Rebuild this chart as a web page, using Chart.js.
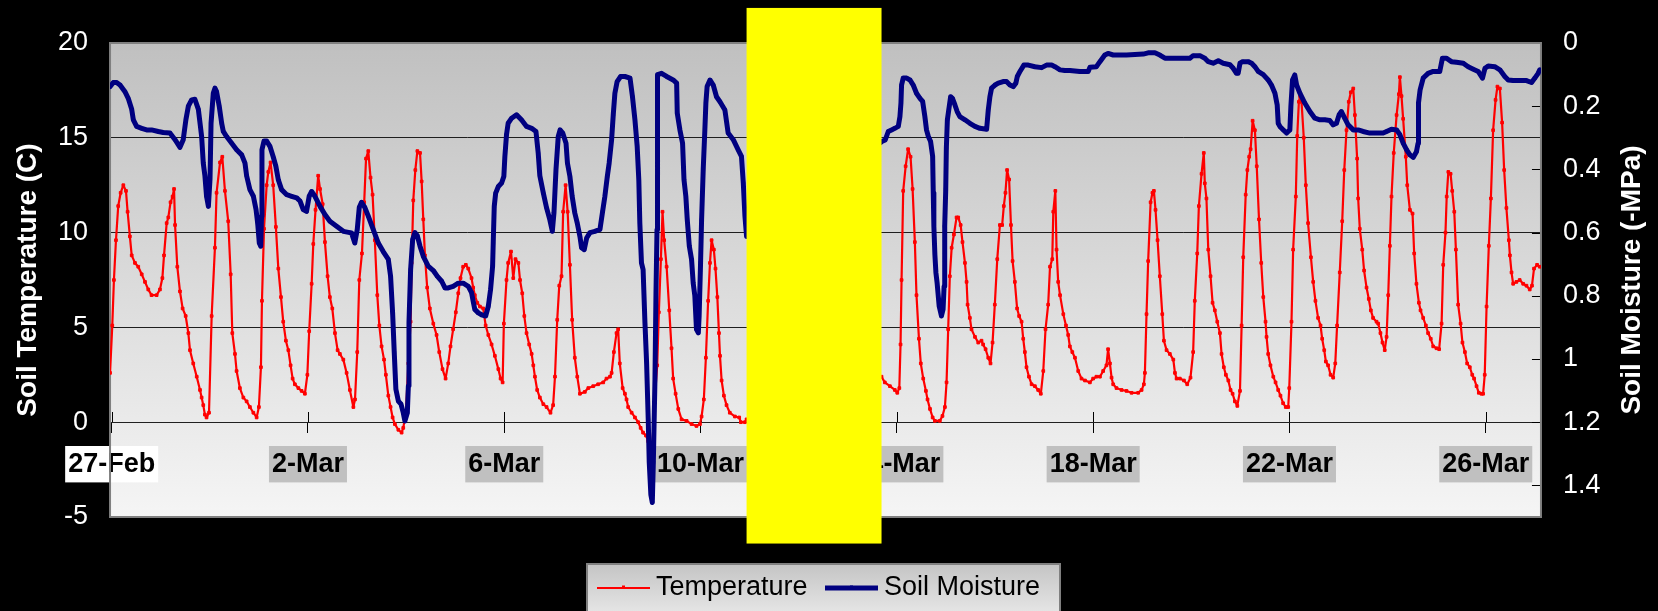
<!DOCTYPE html>
<html>
<head>
<meta charset="utf-8">
<title>Soil temperature and soil moisture</title>
<script src="https://cdn.jsdelivr.net/npm/chart.js@4.4.1/dist/chart.umd.min.js"></script>
<style>
  html, body { margin: 0; padding: 0; background: #000; }
  canvas { display: block; }
</style>
</head>
<body>
<canvas id="soil-chart" width="1658" height="611"></canvas>
<script>
// time axis is in hours from midnight, 27 Feb
var tickHours = [0, 96, 192, 288, 384, 480, 576, 672];
var tickLabels = ['27-Feb', '2-Mar', '6-Mar', '10-Mar', '14-Mar', '18-Mar', '22-Mar', '26-Mar'];

var tempHours = [
    -0.8, 0.3, 1.1, 2.1, 3.2, 4.4, 5.7, 7.0, 7.8, 8.9, 9.8, 11.4, 13.0, 14.7, 16.3, 17.9, 19.5, 22.0, 23.6,
    24.8, 25.6, 26.9, 27.7, 28.8, 29.8, 30.5, 31.0, 32.1, 33.4, 34.7, 36.2, 37.5, 38.3, 39.9, 41.6, 43.2, 44.0, 44.8, 45.6, 46.4, 47.6,
    48.9, 50.5, 51.3, 53.0, 54.1, 55.4, 57.0, 58.2, 59.0, 60.3, 61.1, 62.7, 64.4, 66.0, 67.6, 69.3, 70.9,
    72.0, 73.0, 73.5, 74.5, 75.8, 76.6, 77.7, 79.0, 80.3, 81.5, 82.8, 83.9, 85.2, 86.4, 87.5, 88.5, 89.6, 91.3, 92.9, 94.5,
    95.7, 96.6, 97.8, 98.6, 99.7, 101.0, 101.9, 103.2, 104.3, 105.6, 106.7, 107.9, 109.2, 110.5, 111.6, 113.3, 114.9, 116.5, 118.2, 119.0,
    120.1, 121.1, 122.4, 123.5, 124.4, 125.5, 126.6, 127.6, 128.7, 129.9, 130.9, 132.0, 133.2, 134.1, 135.3, 136.4, 137.4, 138.5, 140.2, 141.8, 142.6,
    143.9, 145.1, 146.2, 146.7, 147.5, 148.5, 149.5, 150.8, 151.6, 152.4, 153.2, 154.3, 155.6, 157.3, 158.9, 160.2, 161.8, 163.3,
    164.6, 165.7, 167.0, 168.3, 169.5, 170.6, 171.9, 173.2, 174.4, 176.0, 176.8, 177.6, 178.8, 180.1, 181.7, 182.9, 184.2, 185.8, 187.4, 189.1, 190.2, 191.2,
    191.8, 193.1, 193.9, 195.3, 196.4, 197.5, 198.9, 199.7, 200.8, 201.8, 202.9, 204.2, 205.4, 206.2, 207.0, 208.1, 209.4, 211.1, 212.7, 214.6,
    215.9, 216.8, 217.9, 218.9, 220.0, 220.8, 222.0, 223.0, 224.1, 225.2, 226.5, 227.7, 229.0, 231.4, 233.1, 235.5, 237.9,
    240.4, 242.0, 243.7, 244.5, 245.6, 246.9, 247.7, 248.5, 249.9, 251.0, 251.8, 252.6, 254.3, 255.9, 257.5, 258.7, 259.9, 261.3, 262.4, 263.6,
    264.5, 265.7, 266.8, 267.6, 268.6, 269.4, 270.2, 271.4, 272.7, 273.8, 274.6, 275.8, 277.1, 278.7, 281.2, 283.6, 286.0, 287.7,
    288.5, 289.6, 290.6, 291.7, 292.6, 293.4, 294.5, 295.3, 296.2, 297.0, 297.5, 298.3, 299.4, 300.7, 302.3, 304.8, 306.9, 307.7, 309.7, 310.5,
    376.5, 378.1, 380.6, 383.0,
    384.2, 385.2, 385.8, 386.3, 387.1, 388.3, 389.5, 390.7, 391.7, 392.8, 393.6, 394.8, 395.7, 396.9, 398.2, 399.0, 400.2, 401.5, 402.6, 405.0, 406.3,
    407.5, 408.3, 409.1, 409.9, 410.8, 411.9, 413.2, 414.0, 415.2, 416.1, 417.3, 418.1, 418.6, 419.7, 420.5, 422.2, 423.8, 425.4, 426.2, 427.4, 428.7, 429.8,
    430.8, 431.9, 433.1, 434.4, 435.5, 436.3, 437.1, 437.9, 438.9, 439.8, 440.6, 441.7, 442.8, 443.8, 445.0, 445.8, 446.6, 447.4, 448.6, 449.9, 451.5, 453.1, 454.4,
    455.6, 456.7, 458.0, 458.9, 460.0, 460.5, 461.5, 462.1, 462.9, 463.8, 465.4, 466.7, 467.8, 468.6, 469.8, 471.1, 472.7, 474.3, 476.0, 478.4,
    480.0, 481.6, 483.3, 484.9, 486.5, 487.3, 488.2, 489.0, 489.8, 491.4, 493.9, 496.3, 498.8, 502.0, 503.7, 504.8,
    505.3, 506.1, 506.9, 508.1, 509.0, 509.7, 510.5, 511.5, 512.6, 513.8, 514.6, 515.9, 517.5, 519.2, 520.0, 520.8, 522.4, 524.4, 526.0, 527.6,
    528.9, 529.7, 530.9, 531.7, 533.0, 534.1, 534.6, 535.4, 536.3, 537.4, 538.4, 539.5, 540.7, 542.0, 542.8, 543.9, 544.9, 546.1, 547.2, 548.2, 549.3, 550.5,
    551.8, 552.6, 553.4, 554.6, 555.4, 556.3, 557.0, 558.0, 559.1, 560.0, 561.1, 562.2, 563.2, 564.3, 564.8, 565.6, 566.7, 568.1, 569.2, 570.5, 571.6, 572.9, 574.2, 575.4,
    575.9, 577.0, 577.8, 579.1, 579.8, 580.6, 581.2, 581.9, 583.0, 584.0, 585.1, 586.5, 587.6, 588.7, 590.0, 591.2, 592.0, 593.0, 593.8, 594.9, 596.1, 597.4,
    598.4, 599.3, 600.6, 601.8, 602.8, 603.9, 605.0, 606.0, 607.2, 608.0, 609.1, 609.6, 610.4, 611.6, 612.5, 613.7, 614.8, 615.8, 616.9, 618.6, 619.4, 620.5, 621.5, 622.6,
    623.5, 624.3, 625.1, 625.9, 627.0, 628.4, 629.5, 630.0, 630.8, 631.6, 632.9, 633.6, 634.9, 636.2, 637.0, 638.1, 639.3, 640.1, 641.4, 642.7, 643.8, 645.1, 646.3, 647.9, 649.2,
    650.4, 651.2, 652.3, 652.9, 653.7, 654.8, 655.6, 656.6, 657.4, 658.5, 659.7, 660.6, 661.8, 662.9, 664.2, 665.4, 666.3, 667.5, 668.6, 669.9, 670.7,
    671.5, 672.4, 673.5, 674.5, 675.6, 676.8, 677.7, 678.9, 680.0, 681.0, 682.1, 683.3, 683.8, 684.6, 685.4, 687.0, 688.6, 690.3, 691.9, 693.5, 694.6, 695.6, 697.1, 698.4
];
var tempC = [
    2.6, 5.1, 7.5, 9.6, 11.4, 12.1, 12.5, 12.2, 11.1, 9.8, 8.8, 8.4, 8.2, 7.8, 7.4, 7.0, 6.7, 6.7, 7.0,
    7.6, 8.8, 10.5, 10.8, 11.6, 11.9, 12.3, 10.4, 8.2, 6.9, 6.0, 5.6, 4.7, 3.8, 3.1, 2.4, 1.7, 1.3, 0.9, 0.4, 0.25, 0.5,
    5.6, 9.2, 12.1, 13.7, 14.0, 12.2, 10.6, 7.8, 4.7, 3.6, 2.7, 1.8, 1.3, 1.1, 0.8, 0.5, 0.25,
    0.8, 2.9, 6.4, 10.2, 12.5, 13.2, 13.7, 12.5, 10.3, 8.1, 6.6, 5.3, 4.3, 3.8, 3.0, 2.3, 2.0, 1.8, 1.65, 1.5,
    2.5, 4.8, 7.3, 9.4, 11.2, 13.0, 12.3, 11.5, 9.5, 7.7, 6.6, 6.0, 4.7, 3.8, 3.6, 3.3, 2.6, 1.7, 0.8, 1.2,
    3.7, 7.5, 8.9, 11.6, 13.9, 14.3, 12.9, 12.0, 9.6, 6.7, 5.1, 4.0, 3.3, 2.5, 1.4, 0.8, 0.25, -0.1, -0.4, -0.55, -0.3,
    0.5, 3.1, 5.3, 8.4, 11.7, 13.3, 14.3, 14.2, 12.7, 10.7, 8.8, 7.1, 6.0, 5.2, 4.6, 3.7, 2.8, 2.3,
    3.1, 4.0, 4.9, 5.8, 6.8, 7.6, 8.2, 8.3, 8.1, 7.6, 7.1, 6.7, 6.3, 6.1, 6.0, 5.1, 4.6, 4.1, 3.5, 2.8, 2.3, 2.1,
    5.2, 7.5, 8.4, 9.0, 7.6, 8.6, 8.4, 7.5, 6.8, 5.6, 4.7, 4.1, 3.6, 3.0, 2.4, 1.7, 1.3, 0.95, 0.8, 0.5,
    0.9, 2.4, 5.4, 7.2, 7.7, 11.1, 12.5, 11.1, 8.3, 5.4, 3.4, 2.4, 1.5, 1.6, 1.8, 1.9, 2.0,
    2.1, 2.3, 2.4, 2.6, 3.7, 4.7, 4.9, 3.1, 1.8, 1.5, 1.2, 0.8, 0.5, 0.25, 0.0, -0.3, -0.55, -0.7, -1.0, -1.25,
    -1.1, 1.4, 3.0, 5.8, 8.6, 11.1, 9.6, 8.2, 5.9, 3.9, 2.3, 1.5, 0.7, 0.15, 0.07, -0.1, -0.2, -0.1,
    0.3, 1.2, 3.4, 6.4, 8.4, 9.6, 9.1, 8.1, 6.6, 4.7, 3.5, 2.2, 1.4, 0.9, 0.5, 0.3, 0.25, 0.0, 0.0, 0.15,
    2.4, 2.1, 1.9, 1.7,
    1.55, 1.8, 4.1, 7.5, 12.2, 13.5, 14.4, 14.0, 12.3, 9.5, 6.7, 4.4, 3.1, 2.3, 1.65, 1.2, 0.7, 0.25, 0.07, 0.07, 0.33,
    0.8, 2.1, 4.9, 7.7, 9.2, 9.9, 10.8, 10.8, 10.4, 9.5, 8.4, 7.4, 6.2, 5.5, 4.9, 4.5, 4.2, 4.3, 4.1, 3.85, 3.4, 3.1,
    4.2, 6.2, 8.6, 10.4, 10.4, 11.4, 12.1, 13.3, 12.8, 10.4, 8.5, 7.4, 6.0, 5.6, 5.3, 4.4, 3.7, 2.9, 2.4, 2.0, 1.9, 1.7, 1.5,
    2.7, 4.9, 6.2, 8.2, 8.6, 11.1, 12.2, 9.1, 7.4, 6.7, 5.7, 5.1, 4.6, 4.0, 3.7, 3.4, 2.7, 2.3, 2.2, 2.1,
    2.3, 2.4, 2.4, 2.7, 3.0, 3.85, 3.1, 2.35, 2.0, 1.8, 1.7, 1.65, 1.55, 1.55, 1.7, 2.0,
    2.6, 5.7, 8.5, 11.6, 12.1, 12.2, 11.2, 9.6, 7.7, 5.7, 4.3, 3.8, 3.6, 3.3, 2.6, 2.3, 2.3, 2.2, 2.0, 2.35,
    3.7, 6.4, 8.9, 11.4, 13.1, 14.2, 12.6, 11.8, 9.1, 7.7, 6.3, 5.9, 5.3, 4.7, 3.6, 2.9, 2.5, 2.2, 1.7, 1.5, 1.1, 0.86,
    1.65, 5.1, 8.7, 12.0, 13.3, 14.0, 14.4, 15.9, 15.4, 13.5, 10.7, 8.4, 6.6, 5.3, 4.5, 3.6, 3.0, 2.4, 2.1, 1.7, 1.4, 1.0, 0.8, 0.8,
    1.8, 5.3, 9.1, 11.9, 15.1, 16.9, 17.2, 16.9, 15.0, 12.5, 10.5, 8.7, 7.4, 6.4, 5.5, 5.1, 4.4, 3.8, 3.2, 3.0, 2.5, 2.35,
    3.1, 5.1, 7.9, 10.6, 13.3, 15.4, 16.9, 17.4, 17.6, 16.2, 13.9, 11.8, 10.2, 9.1, 8.0, 7.1, 6.5, 5.9, 5.5, 5.3, 5.2, 4.7, 4.2, 3.8,
    4.5, 6.7, 9.3, 11.9, 14.2, 16.2, 17.3, 18.2, 17.2, 16.0, 14.0, 12.5, 11.2, 11.0, 8.9, 7.3, 6.3, 5.9, 5.5, 5.1, 4.7, 4.4, 4.0, 3.9, 3.85,
    5.2, 8.3, 10.0, 11.9, 13.2, 13.1, 12.2, 11.1, 9.1, 6.2, 5.2, 4.2, 3.7, 3.1, 2.9, 2.5, 2.3, 1.9, 1.55, 1.5, 1.5,
    2.5, 6.1, 9.3, 11.8, 15.4, 17.0, 17.7, 17.6, 15.8, 13.3, 11.3, 9.6, 8.8, 7.9, 7.3, 7.4, 7.5, 7.3, 7.2, 7.0, 7.2, 8.1, 8.3, 8.2
];

var moistHours = [
    -0.8, 0.8, 2.4, 4.1, 6.5, 8.1, 9.8, 10.6, 12.2, 14.7, 17.1, 19.5, 22.8, 25.2, 28.5, 31.0, 33.4, 35.0, 36.3, 37.5, 39.1, 40.7, 42.4,
    44.0, 44.8, 45.6, 46.4, 47.3, 48.1, 48.6, 49.7, 50.5, 51.3, 52.6, 53.8, 54.6, 56.2, 58.7, 61.1, 63.6, 65.2, 66.0, 67.6, 69.3, 70.6, 71.4,
    72.2, 72.9, 73.3, 73.5, 74.5, 75.8, 77.4, 79.0, 80.3, 81.5, 83.1, 85.6, 88.0, 90.5, 92.1, 93.7, 95.3, 96.6, 97.8, 99.4, 101.9, 104.3,
    106.7, 110.0, 113.3, 116.5, 117.3, 118.9, 120.1, 121.1, 122.2, 123.8, 125.5, 127.9, 130.4, 132.8, 135.3, 136.4, 137.4, 138.2, 139.0,
    140.2, 141.5, 142.6, 143.4, 144.6, 145.1, 145.4, 146.2, 147.2, 148.3, 149.5, 150.8, 152.4, 154.8, 157.3, 159.2, 161.4, 163.0, 164.6,
    167.0, 169.5, 171.9, 174.4, 176.0, 176.8, 177.6, 179.3, 180.9, 182.9, 184.2, 185.3, 186.3, 186.6, 187.1, 187.8, 189.1, 190.7,
    191.8, 192.3, 193.1, 193.9, 195.6, 198.0, 200.4, 202.9, 205.4, 207.5, 208.6, 209.4, 211.1, 212.7, 214.3, 215.5,
    216.3, 217.3, 218.4, 219.3, 220.6, 222.2, 222.9, 224.1, 225.2, 226.5, 227.7, 229.0, 229.8, 231.1, 232.3, 233.9, 236.3, 238.8,
    240.1, 241.2, 242.4, 243.3, 244.5, 245.3, 246.1, 247.2, 248.9, 251.0, 253.5, 254.7, 255.9, 257.0, 257.8, 258.3, 259.1, 259.9,
    260.8, 261.6, 262.4, 262.9, 263.7, 264.4, 264.9, 265.7, 266.2, 266.7, 266.8, 267.1, 268.9, 271.4, 274.6, 276.3, 276.6, 277.9,
    279.2, 279.9, 280.8, 281.5, 282.5, 283.6, 284.4, 285.2, 286.0, 286.9, 287.3, 288.0, 288.5, 289.3, 290.1, 290.6, 291.2, 292.6,
    294.2, 295.8, 297.5, 299.9, 301.5, 304.0, 306.4, 308.0, 308.9, 309.7, 310.5,
    376.6, 378.3, 379.8, 381.4, 383.0, 384.7, 385.5, 386.0, 386.3, 387.1, 388.8, 390.4, 392.0, 393.6, 395.3, 396.6, 397.7, 398.5,
    399.4, 400.5, 401.5, 401.8, 402.1, 402.6, 403.1, 403.7, 404.7, 405.8, 406.6, 407.1, 407.4, 407.9, 408.2, 408.7, 409.4, 410.3,
    411.2, 412.4, 413.5, 414.8, 417.3, 419.7, 422.2, 424.6, 427.9, 428.7, 429.5, 430.3, 432.0, 433.6, 436.0, 437.6, 439.3, 440.9,
    442.2, 442.9, 444.2, 446.1, 448.3, 451.5, 454.8, 457.2, 459.7, 461.3, 463.8, 466.2, 468.6, 473.5, 477.6, 478.4, 481.6, 483.3,
    485.7, 487.3, 489.8, 496.3, 504.5, 506.9, 510.2, 512.6, 515.1, 520.8, 527.3, 528.9, 532.2, 534.6, 536.3, 538.7, 541.2, 543.6,
    546.9, 548.5, 550.1, 550.9, 551.8, 553.1, 555.8, 557.5, 559.1, 560.7, 563.2, 565.6, 567.2, 568.9, 570.0, 570.5, 571.3, 573.0,
    574.6, 576.2, 576.7, 577.5, 578.6, 579.5, 581.1, 583.5, 586.0, 588.4, 590.9, 593.3, 595.7, 597.4, 599.0, 600.3, 601.4, 603.0,
    604.7, 607.2, 609.6, 612.0, 615.3, 618.6, 621.8, 623.5, 625.9, 628.4, 630.0, 631.6, 633.3, 634.9, 636.5, 638.1, 638.9, 639.1,
    639.9, 641.4, 643.8, 646.3, 649.5, 650.8, 652.8, 655.2, 657.7, 661.0, 663.4, 665.9, 668.3, 670.4, 671.6, 673.2, 676.4, 678.9,
    681.3, 683.0, 685.4, 688.6, 691.9, 694.4, 696.0, 697.6, 698.4
];
var moistMPa = [
    0.138, 0.125, 0.125, 0.133, 0.154, 0.175, 0.21, 0.243, 0.264, 0.27, 0.275, 0.275, 0.28, 0.283, 0.285, 0.306, 0.33, 0.306, 0.243, 0.2, 0.18, 0.178, 0.21,
    0.296, 0.38, 0.42, 0.485, 0.517, 0.43, 0.254, 0.159, 0.143, 0.154, 0.2, 0.254, 0.28, 0.296, 0.317, 0.338, 0.354, 0.38, 0.42, 0.464, 0.485, 0.527, 0.57,
    0.633, 0.643, 0.548, 0.338, 0.31, 0.31, 0.327, 0.36, 0.39, 0.433, 0.464, 0.48, 0.485, 0.49, 0.5, 0.527, 0.533, 0.485, 0.47, 0.485, 0.517, 0.543,
    0.564, 0.58, 0.596, 0.6, 0.601, 0.633, 0.59, 0.52, 0.504, 0.52, 0.548, 0.59, 0.633, 0.66, 0.685, 0.738, 0.854, 0.98, 1.096,
    1.133, 1.143, 1.17, 1.196, 1.17, 1.085, 0.885, 0.717, 0.622, 0.6, 0.61, 0.643, 0.675, 0.706, 0.72, 0.738, 0.754, 0.775, 0.775,
    0.77, 0.76, 0.76, 0.77, 0.79, 0.817, 0.843, 0.854, 0.86, 0.864, 0.833, 0.78, 0.706, 0.633, 0.517, 0.475, 0.454, 0.443,
    0.422, 0.359, 0.29, 0.254, 0.238, 0.227, 0.243, 0.264, 0.27, 0.28, 0.348, 0.42, 0.475, 0.522, 0.56, 0.596,
    0.538, 0.4, 0.296, 0.275, 0.285, 0.317, 0.38, 0.422, 0.485, 0.538, 0.57, 0.612, 0.648, 0.654, 0.617, 0.6, 0.596, 0.59,
    0.533, 0.485, 0.422, 0.38, 0.306, 0.227, 0.159, 0.122, 0.106, 0.106, 0.111, 0.17, 0.243, 0.327, 0.433, 0.57, 0.696, 0.717,
    0.885, 1.01, 1.19, 1.327, 1.43, 1.454, 1.327, 1.064, 0.79, 0.59, 0.243, 0.1, 0.096, 0.106, 0.117, 0.127, 0.222, 0.275,
    0.317, 0.433, 0.485, 0.56, 0.643, 0.685, 0.76, 0.8, 0.906, 0.917, 0.864, 0.696, 0.56, 0.4, 0.275, 0.19, 0.138, 0.117,
    0.133, 0.17, 0.186, 0.212, 0.285, 0.306, 0.338, 0.359, 0.443, 0.548, 0.612,
    0.312, 0.307, 0.28, 0.275, 0.27, 0.264, 0.233, 0.19, 0.133, 0.111, 0.111, 0.117, 0.133, 0.159, 0.175, 0.185, 0.233, 0.275,
    0.296, 0.312, 0.359, 0.475, 0.58, 0.67, 0.727, 0.76, 0.833, 0.864, 0.843, 0.77, 0.58, 0.464, 0.333, 0.243, 0.211, 0.17,
    0.175, 0.196, 0.217, 0.233, 0.243, 0.254, 0.264, 0.27, 0.273, 0.212, 0.17, 0.143, 0.133, 0.127, 0.122, 0.122, 0.133, 0.138,
    0.127, 0.106, 0.09, 0.07, 0.07, 0.075, 0.078, 0.07, 0.07, 0.075, 0.085, 0.087, 0.087, 0.09, 0.09, 0.077, 0.075, 0.059,
    0.038, 0.033, 0.038, 0.038, 0.035, 0.031, 0.031, 0.038, 0.048, 0.048, 0.048, 0.04, 0.04, 0.048, 0.059, 0.064, 0.056, 0.064,
    0.069, 0.08, 0.096, 0.096, 0.064, 0.059, 0.059, 0.064, 0.075, 0.09, 0.1, 0.117, 0.133, 0.159, 0.196, 0.254, 0.264, 0.275,
    0.285, 0.275, 0.2, 0.117, 0.101, 0.133, 0.159, 0.19, 0.217, 0.238, 0.243, 0.243, 0.245, 0.259, 0.254, 0.227, 0.217, 0.238,
    0.259, 0.275, 0.275, 0.28, 0.285, 0.285, 0.285, 0.28, 0.273, 0.275, 0.29, 0.317, 0.338, 0.354, 0.362, 0.344, 0.317, 0.19,
    0.148, 0.111, 0.096, 0.09, 0.09, 0.048, 0.048, 0.059, 0.061, 0.064, 0.075, 0.083, 0.09, 0.111, 0.08, 0.073, 0.075, 0.085,
    0.106, 0.117, 0.119, 0.119, 0.119, 0.125, 0.111, 0.096, 0.085
];

// yellow block laid over part of the record: hour span and its height in degrees on the left axis
var blockHours = [310.5, 376.5];
var blockTemp = [21.85, -6.4];

var fontFamily = "'Liberation Sans', Arial, sans-serif";

function toPoints(xs, ys) {
    return xs.map(function (x, i) {
        return { x: x, y: ys[i] };
    });
}

// grey-to-white fill of the plot, then its grey frame and the short ticks
var plotFill = {
    id: 'plotFill',
    beforeDraw: function (chart) {
        var a = chart.chartArea;
        var ctx = chart.ctx;
        var g = ctx.createLinearGradient(0, a.top, 0, a.bottom);
        g.addColorStop(0, '#c0c0c0');
        g.addColorStop(1, '#f5f5f5');
        ctx.save();
        ctx.fillStyle = g;
        ctx.fillRect(a.left, a.top, a.right - a.left, a.bottom - a.top);
        ctx.restore();
    },
    beforeDatasetsDraw: function (chart) {
        var a = chart.chartArea;
        var ctx = chart.ctx;
        var y2 = chart.scales.y2;
        var xs = chart.scales.x;
        var zeroY = Math.round(chart.scales.y.getPixelForValue(0));
        ctx.save();
        ctx.strokeStyle = '#000000';
        ctx.lineWidth = 1;
        ctx.beginPath();
        // right axis ticks point into the plot
        y2.ticks.forEach(function (t) {
            var py = Math.round(y2.getPixelForValue(t.value)) + 0.5;
            ctx.moveTo(a.right - 9, py);
            ctx.lineTo(a.right, py);
        });
        // date ticks also reach above the zero line
        xs.ticks.forEach(function (t) {
            var px = Math.round(xs.getPixelForValue(t.value)) + 0.5;
            ctx.moveTo(px, zeroY - 10);
            ctx.lineTo(px, zeroY);
        });
        ctx.stroke();
        ctx.strokeStyle = '#808080';
        ctx.lineWidth = 2;
        ctx.strokeRect(a.left, a.top, a.right - a.left, a.bottom - a.top);
        ctx.restore();
    }
};

// right axis title reads bottom to top, the key box under the plot, and the yellow block
var extras = {
    id: 'extras',
    afterDraw: function (chart) {
        var ctx = chart.ctx;
        var a = chart.chartArea;

        ctx.save();
        ctx.translate(chart.width - 26, (a.top + a.bottom) / 2);
        ctx.rotate(-Math.PI / 2);
        ctx.fillStyle = '#ffffff';
        ctx.font = 'bold 28px ' + fontFamily;
        ctx.textAlign = 'center';
        ctx.textBaseline = 'middle';
        ctx.fillText('Soil Moisture (-MPa)', 0, 0);
        ctx.restore();

        // key
        var box = { left: 587, top: 564, right: 1060, bottom: 640 };
        ctx.save();
        var g = ctx.createLinearGradient(0, box.top, 0, box.bottom);
        g.addColorStop(0, '#c4c4c4');
        g.addColorStop(1, '#f8f8f8');
        ctx.fillStyle = g;
        ctx.fillRect(box.left, box.top, box.right - box.left, box.bottom - box.top);
        ctx.strokeStyle = '#808080';
        ctx.lineWidth = 2;
        ctx.strokeRect(box.left, box.top, box.right - box.left, box.bottom - box.top);

        var keyY = 588;
        var starts = [597, 825];
        ctx.font = '27px ' + fontFamily;
        ctx.textBaseline = 'middle';
        ctx.textAlign = 'left';
        chart.data.datasets.forEach(function (ds, i) {
            var x0 = starts[i];
            ctx.strokeStyle = ds.borderColor;
            ctx.lineWidth = ds.borderWidth;
            ctx.beginPath();
            ctx.moveTo(x0, keyY);
            ctx.lineTo(x0 + 53, keyY);
            ctx.stroke();
            ctx.fillStyle = ds.borderColor;
            ctx.fillRect(x0 + 25, keyY - 2.5, 3, 3);
            ctx.fillStyle = '#000000';
            ctx.fillText(ds.label, x0 + 59, keyY);
        });
        ctx.restore();

        var xs = chart.scales.x;
        var ys = chart.scales.y;
        var l = xs.getPixelForValue(blockHours[0]);
        var r = xs.getPixelForValue(blockHours[1]);
        var t = ys.getPixelForValue(blockTemp[0]);
        var b = ys.getPixelForValue(blockTemp[1]);
        ctx.save();
        ctx.fillStyle = '#ffff00';
        ctx.fillRect(l, t, r - l, b - t);
        ctx.restore();
    }
};

Chart.defaults.font.family = fontFamily;

var ctx = document.getElementById('soil-chart');
var soilChart = new Chart(ctx, {
    type: 'line',
    data: {
        datasets: [
            {
                label: 'Temperature',
                data: toPoints(tempHours, tempC),
                yAxisID: 'y',
                borderColor: '#ff0000',
                backgroundColor: '#ff0000',
                borderWidth: 2.2,
                borderJoinStyle: 'round',
                borderCapStyle: 'round',
                pointStyle: 'rect',
                pointRadius: 1.9,
                pointBorderWidth: 1,
                pointBackgroundColor: '#ff0000',
                pointBorderColor: '#ff0000',
                tension: 0,
                order: 1
            },
            {
                label: 'Soil Moisture',
                data: toPoints(moistHours, moistMPa),
                yAxisID: 'y2',
                borderColor: '#000080',
                backgroundColor: '#000080',
                borderWidth: 5,
                borderJoinStyle: 'round',
                borderCapStyle: 'round',
                pointStyle: 'rect',
                pointRadius: 1.9,
                pointBorderWidth: 1,
                pointBackgroundColor: '#000080',
                pointBorderColor: '#000080',
                tension: 0,
                order: 0
            }
        ]
    },
    options: {
        responsive: false,
        animation: false,
        devicePixelRatio: 1,
        events: [],
        layout: {
            padding: { top: 43, left: 0, right: 35.5, bottom: 94 }
        },
        plugins: {
            legend: { display: false },
            tooltip: { enabled: false },
            title: { display: false }
        },
        scales: {
            x: {
                type: 'linear',
                position: { y: 0 },
                min: -0.8,
                max: 699,
                afterBuildTicks: function (scale) {
                    scale.ticks = tickHours.map(function (h) { return { value: h }; });
                },
                grid: {
                    drawOnChartArea: false,
                    drawTicks: true,
                    tickLength: 10,
                    color: '#000000'
                },
                border: { display: true, color: '#202020', width: 1 },
                ticks: {
                    autoSkip: false,
                    maxRotation: 0,
                    padding: 15.8,
                    color: '#000000',
                    font: { size: 27, weight: 'bold' },
                    showLabelBackdrop: true,
                    backdropColor: function (c) { return c.index === 0 ? '#ffffff' : '#c0c0c0'; },
                    backdropPadding: { top: 2, bottom: 2, left: 3, right: 3 },
                    callback: function (value) {
                        return tickLabels[tickHours.indexOf(value)];
                    }
                }
            },
            y: {
                position: 'left',
                min: -5,
                max: 20,
                ticks: {
                    stepSize: 5,
                    color: '#ffffff',
                    font: { size: 27 },
                    padding: 22
                },
                grid: {
                    drawTicks: false,
                    lineWidth: 1,
                    color: function (c) {
                        return (c.tick && (c.tick.value === 20 || c.tick.value === -5)) ? 'rgba(0,0,0,0)' : '#1e1e1e';
                    }
                },
                border: { display: false },
                title: {
                    display: true,
                    text: 'Soil Temperature (C)',
                    color: '#ffffff',
                    font: { size: 28, weight: 'bold' },
                    padding: { top: 11.7, bottom: -9.3 }
                }
            },
            y2: {
                position: 'right',
                min: 0,
                max: 1.5,
                reverse: true,
                afterBuildTicks: function (scale) {
                    scale.ticks = scale.ticks.filter(function (t) { return t.value <= 1.41; });
                },
                ticks: {
                    stepSize: 0.2,
                    color: '#ffffff',
                    font: { size: 27 },
                    padding: 22,
                    callback: function (value) {
                        return String(Math.round(value * 10) / 10);
                    }
                },
                grid: {
                    drawOnChartArea: false,
                    drawTicks: false
                },
                border: { display: false }
            }
        }
    },
    plugins: [plotFill, extras]
});
</script>
</body>
</html>
